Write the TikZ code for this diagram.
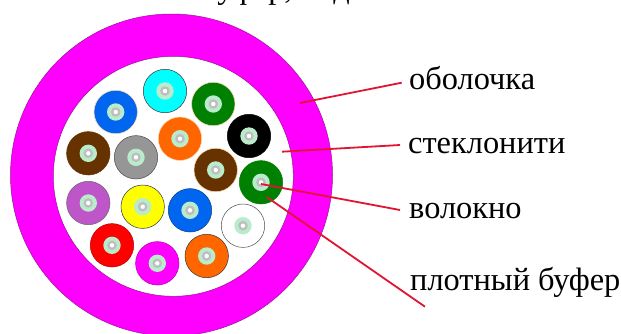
\documentclass[tikz,border=0pt]{standalone}
\usepackage{fontspec}
\setmainfont{Liberation Serif}
\definecolor{sheath}{RGB}{255,0,255}
\definecolor{sheathedge}{RGB}{150,20,150}
\definecolor{leadred}{RGB}{225,20,50}
\definecolor{coreg}{RGB}{185,235,205}
\definecolor{coregrey}{RGB}{190,190,190}
\definecolor{halo}{RGB}{255,215,175}
\definecolor{fcyan}{RGB}{0,255,255}
\definecolor{fgreen}{RGB}{0,128,0}
\definecolor{fblue}{RGB}{0,102,240}
\definecolor{forange}{RGB}{255,102,0}
\definecolor{fbrown}{RGB}{102,51,0}
\definecolor{fgray}{RGB}{150,150,150}
\definecolor{fpurple}{RGB}{190,85,200}
\definecolor{fyellow}{RGB}{255,255,0}
\definecolor{fred}{RGB}{255,0,0}
\definecolor{fblack}{RGB}{0,0,0}
\definecolor{fwhite}{RGB}{255,255,255}
\tikzset{
  x=1pt,y=-1pt,
  fibre/.style={circle,minimum size=43.4pt,inner sep=0pt,line width=0.5pt},
  lbl/.style={anchor=base west,font=\fontsize{32.4}{36}\selectfont,text=black,inner sep=0pt},
  lead/.style={draw=leadred,line width=1.8pt}
}
\newcommand{\fibreat}[5]{%
  \node[fibre,fill=#3,draw=#5] (#4) at (#1,#2) {};
  \fill[coreg] (#1,#2) circle (8.7);
  \fill[coregrey] (#1,#2) circle (4.8);
  \fill[white] (#1,#2) circle (2.2);
}
\begin{document}
\begin{tikzpicture}
\useasboundingbox (0,0) rectangle (621,333);
\clip (0,0) rectangle (621,333);
\fill[white] (0,0) rectangle (621,333);
\node[lbl] (cut) at (202,-2) {буфер, под};
\filldraw[fill=sheath,draw=sheathedge,line width=0.5pt,even odd rule]
  (171.5,175) circle (161) (173.3,176.3) circle (120);
\fibreat{165}{91}{fcyan}{a}{black!80}
\fibreat{213.3}{104}{fgreen}{b}{halo}
\fibreat{115.7}{112}{fblue}{c}{halo}
\fibreat{249}{136}{fblack}{d}{black}
\fibreat{180}{138.7}{forange}{e}{halo}
\fibreat{88.3}{153.3}{fbrown}{f}{fbrown}
\fibreat{136}{157.3}{fgray}{g}{black!70}
\fibreat{215.7}{170}{fbrown}{h}{halo}
\fibreat{261}{182.3}{fgreen}{i}{fgreen}
\fibreat{88.3}{203}{fpurple}{j}{black!60}
\fibreat{142.7}{206.7}{fyellow}{k}{black!80}
\fibreat{190}{210.3}{fblue}{l}{fblue!60!black}
\fibreat{243}{225.7}{fwhite}{m}{black!70}
\fibreat{112}{245.3}{fred}{n}{fred!70!black}
\fibreat{157.3}{263.3}{sheath}{o}{sheath!70!black}
\fibreat{206.7}{256}{forange}{p}{black!80}
\node[lbl] (l1) at (409,89) {оболочка};
\node[lbl] (l2) at (408,153) {стеклонити};
\node[lbl] (l3) at (409,218) {волокно};
\node[lbl] (l4) at (410,290) {плотный буфер};
\coordinate (e1) at (300,103);
\coordinate (e2) at (282,151.7);
\coordinate (e3) at (261,184);
\coordinate (e4) at (266.7,197);
\coordinate (s1) at (401.7,82.7);
\coordinate (s2) at (400,145);
\coordinate (s3) at (400,210);
\coordinate (s4) at (425,306.7);
\draw[lead] (s1) -- (e1);
\draw[lead] (s2) -- (e2);
\draw[lead] (s3) -- (e3);
\draw[lead] (s4) -- (e4);
\end{tikzpicture}
\end{document}
